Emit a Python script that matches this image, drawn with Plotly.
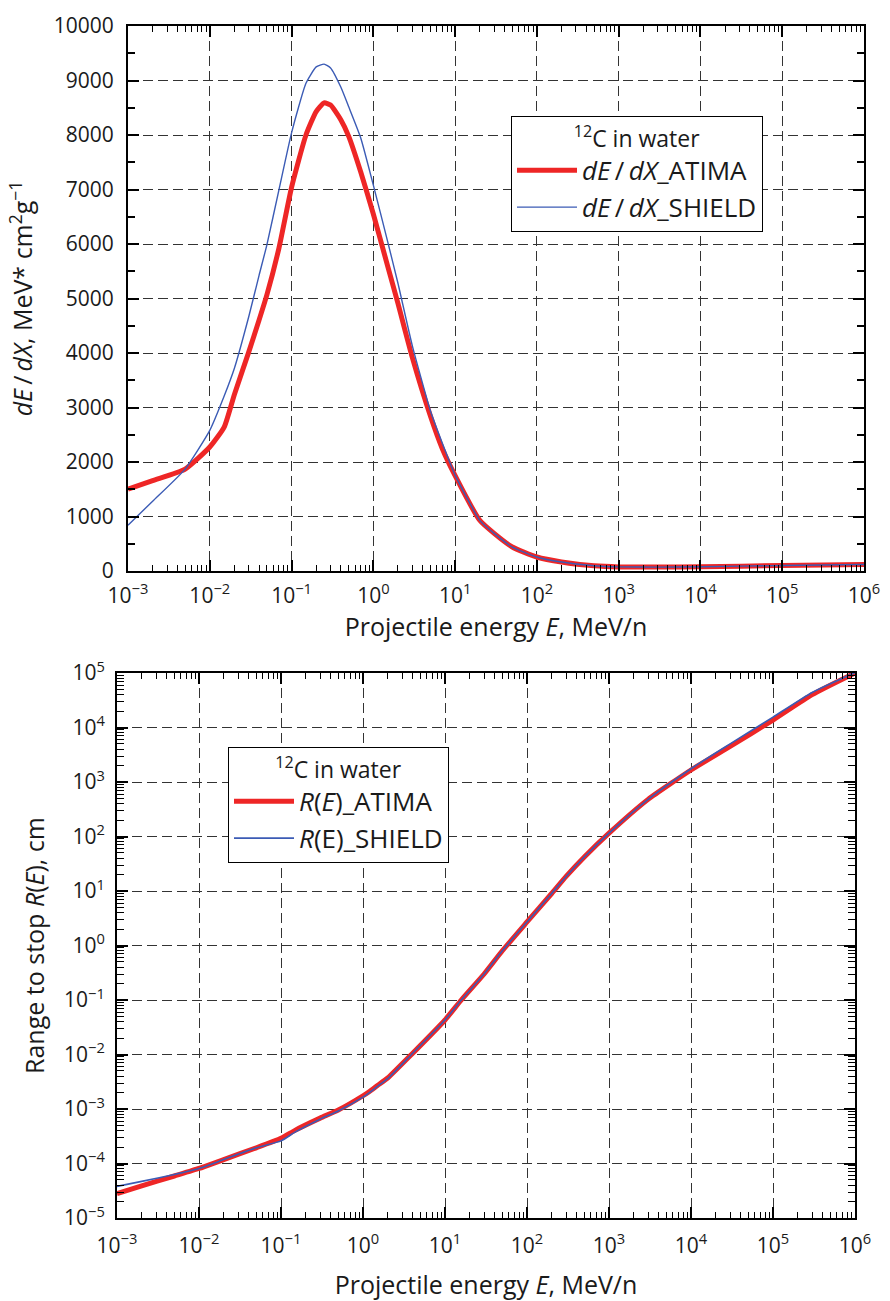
import plotly.graph_objects as go

# ---------------- data ----------------
energy_dedx = [0.001, 0.002, 0.005, 0.01, 0.015, 0.02, 0.03, 0.04, 0.05, 0.07, 0.1, 0.15, 0.2,
               0.25, 0.3, 0.4, 0.5, 0.7, 1, 1.5, 2, 3, 5, 7, 10, 20, 30, 50, 100, 200, 500,
               1000, 3000, 10000, 100000, 1000000]
dedx_atima = [1500, 1660, 1870, 2275, 2640, 3240, 4020, 4600, 5070, 5920, 7040, 8000, 8430,
              8590, 8550, 8280, 7975, 7325, 6550, 5590, 4910, 3915, 2840, 2240, 1750, 930, 690,
              440, 257, 165, 95, 75, 72, 78, 100, 118]
dedx_shield = [840, 1280, 1870, 2580, 3210, 3720, 4670, 5420, 5990, 6990, 8040, 8950, 9250,
               9300, 9230, 8880, 8517, 7950, 7080, 6040, 5280, 4130, 2935, 2340, 1760, 930, 690,
               440, 257, 165, 95, 75, 72, 78, 100, 118]

energy_range = [0.001, 0.002, 0.005, 0.01, 0.02, 0.05, 0.1, 0.15, 0.3, 0.5, 1, 1.2, 1.5, 2,
                3.9, 10, 15.8, 30, 50, 100, 200, 300, 500, 1000, 3000, 10000, 30000, 100000,
                300000, 1000000]
range_atima = [2.8e-5, 3.9e-5, 5.9e-5, 8.1e-5, 1.18e-4, 1.94e-4, 2.9e-4, 4.1e-4, 6.8e-4, 9.6e-4,
               1.75e-3, 2.1e-3, 2.7e-3, 3.7e-3, 1.0e-2, 0.043, 0.1, 0.3, 0.8, 2.7, 9, 18.5, 42,
               115, 480, 1660, 4500, 13700, 40000, 100000]
range_shield = [3.8e-5, 4.7e-5, 6.3e-5, 8.1e-5, 1.18e-4, 1.94e-4, 2.6e-4, 3.8e-4, 6.5e-4, 9.2e-4,
                1.65e-3, 2.0e-3, 2.6e-3, 3.6e-3, 1.0e-2, 0.043, 0.1, 0.3, 0.8, 2.7, 9, 18.5, 42,
                115, 480, 1750, 5000, 15500, 44000, 102000]

x_exponents = [-3, -2, -1, 0, 1, 2, 3, 4, 5, 6]
r_exponents = [-5, -4, -3, -2, -1, 0, 1, 2, 3, 4, 5]
dedx_ticks = [0, 1000, 2000, 3000, 4000, 5000, 6000, 7000, 8000, 9000, 10000]

# ---------------- styling ----------------
W, H = 890, 1301
FONT = "Open Sans"
TXT = "#1a1a1a"
RED = "#ee2626"
BLUE = "#3b5bb5"
GRIDC = "#333333"
DASH = "10px,5px"
TICK_SIZE = 21
TITLE_SIZE = 25


def sup(e):
    s = str(e).replace("-", "\u2212")
    return f"10<sup>{s}</sup>"


def log_minor(lo, hi):
    return [m * 10.0 ** k for k in range(lo, hi) for m in range(2, 10)]


fig = go.Figure()

fig.add_trace(go.Scatter(x=energy_dedx, y=dedx_atima, mode="lines",
                         line=dict(color=RED, width=5, shape="spline", smoothing=0.5),
                         name="<i>dE</i>\u2009/\u2009<i>dX</i>_ATIMA", legend="legend",
                         xaxis="x", yaxis="y"))
fig.add_trace(go.Scatter(x=energy_dedx, y=dedx_shield, mode="lines",
                         line=dict(color=BLUE, width=1.4, shape="spline", smoothing=0.5),
                         name="<i>dE</i>\u2009/\u2009<i>dX</i>_SHIELD", legend="legend",
                         xaxis="x", yaxis="y"))
fig.add_trace(go.Scatter(x=energy_range, y=range_atima, mode="lines",
                         line=dict(color=RED, width=5, shape="spline", smoothing=0.5),
                         name="<i>R</i>(<i>E</i>)_ATIMA", legend="legend2",
                         xaxis="x2", yaxis="y2"))
fig.add_trace(go.Scatter(x=energy_range, y=range_shield, mode="lines",
                         line=dict(color=BLUE, width=1.6, shape="spline", smoothing=0.5),
                         name="<i>R</i>(E)_SHIELD", legend="legend2",
                         xaxis="x2", yaxis="y2"))

# pixel geometry of the two plot areas
top_l, top_r, top_t, top_b = 128, 864, 26, 571
bot_l, bot_r, bot_t, bot_b = 117, 855, 673, 1218

common_axis = dict(showline=True, linecolor="black", linewidth=2, mirror="ticks",
                   ticks="inside", tickcolor="black", tickwidth=1.5, ticklen=11,
                   showgrid=True, gridcolor=GRIDC, gridwidth=1.2, griddash=DASH,
                   zeroline=False, automargin=False,
                   tickfont=dict(family=FONT, size=TICK_SIZE, color=TXT),
                   title_font=dict(family=FONT, size=TITLE_SIZE, color=TXT))

xlog = dict(type="log", range=[-3, 6], tickmode="array",
            tickvals=[10.0 ** e for e in x_exponents],
            ticktext=[sup(e) for e in x_exponents],
            minor=dict(tickmode="array", tickvals=log_minor(-3, 6), ticks="inside",
                       ticklen=6, tickwidth=1.2, tickcolor="black", showgrid=False))

legend_common = dict(xanchor="left", yanchor="top", bgcolor="white",
                     bordercolor="black", borderwidth=1,
                     font=dict(family=FONT, size=26, color=TXT),
                     tracegroupgap=0, itemwidth=60)

fig.update_layout(
    width=W, height=H, autosize=False,
    margin=dict(l=0, r=0, t=0, b=0),
    paper_bgcolor="white", plot_bgcolor="white",
    font=dict(family=FONT, size=TICK_SIZE, color=TXT),
    xaxis=dict(**common_axis, **xlog,
               domain=[top_l / W, top_r / W], anchor="y",
               title=dict(text="Projectile energy <i>E</i>, MeV/n", standoff=10),
               ticklabelstandoff=5),
    yaxis=dict(**common_axis, range=[0, 10000], tickmode="array", tickvals=dedx_ticks,
               ticktext=[str(v) for v in dedx_ticks],
               minor=dict(dtick=500, ticks="inside", ticklen=7, tickwidth=1.5,
                          tickcolor="black", showgrid=False),
               domain=[1 - top_b / H, 1 - top_t / H], anchor="x",
               title=dict(text="<i>dE</i>\u2009/\u2009<i>dX</i>, MeV* cm<sup>2</sup>g<sup>\u22121</sup>",
                          standoff=14),
               ticklabelstandoff=8),
    xaxis2=dict(**common_axis, **xlog,
                domain=[bot_l / W, bot_r / W], anchor="y2",
                title=dict(text="Projectile energy <i>E</i>, MeV/n", standoff=20),
                ticklabelstandoff=8),
    yaxis2=dict(**common_axis, type="log", range=[-5, 5], tickmode="array",
                tickvals=[10.0 ** e for e in r_exponents],
                ticktext=[sup(e) for e in r_exponents],
                minor=dict(tickmode="array", tickvals=log_minor(-5, 5), ticks="inside",
                           ticklen=7, tickwidth=1.2, tickcolor="black", showgrid=False),
                domain=[1 - bot_b / H, 1 - bot_t / H], anchor="x2",
                title=dict(text="Range to stop <i>R</i>(<i>E</i>), cm", standoff=12),
                ticklabelstandoff=6),
    legend=dict(**legend_common, x=511 / W, y=1 - 116 / H,
                title=dict(text="<sup>12</sup>C in water", side="top center",
                           font=dict(family=FONT, size=23, color=TXT))),
    legend2=dict(**legend_common, x=228 / W, y=1 - 747 / H,
                 title=dict(text="<sup>12</sup>C in water", side="top center",
                            font=dict(family=FONT, size=23, color=TXT))),
    showlegend=True,
)

fig.write_html("out.html")
